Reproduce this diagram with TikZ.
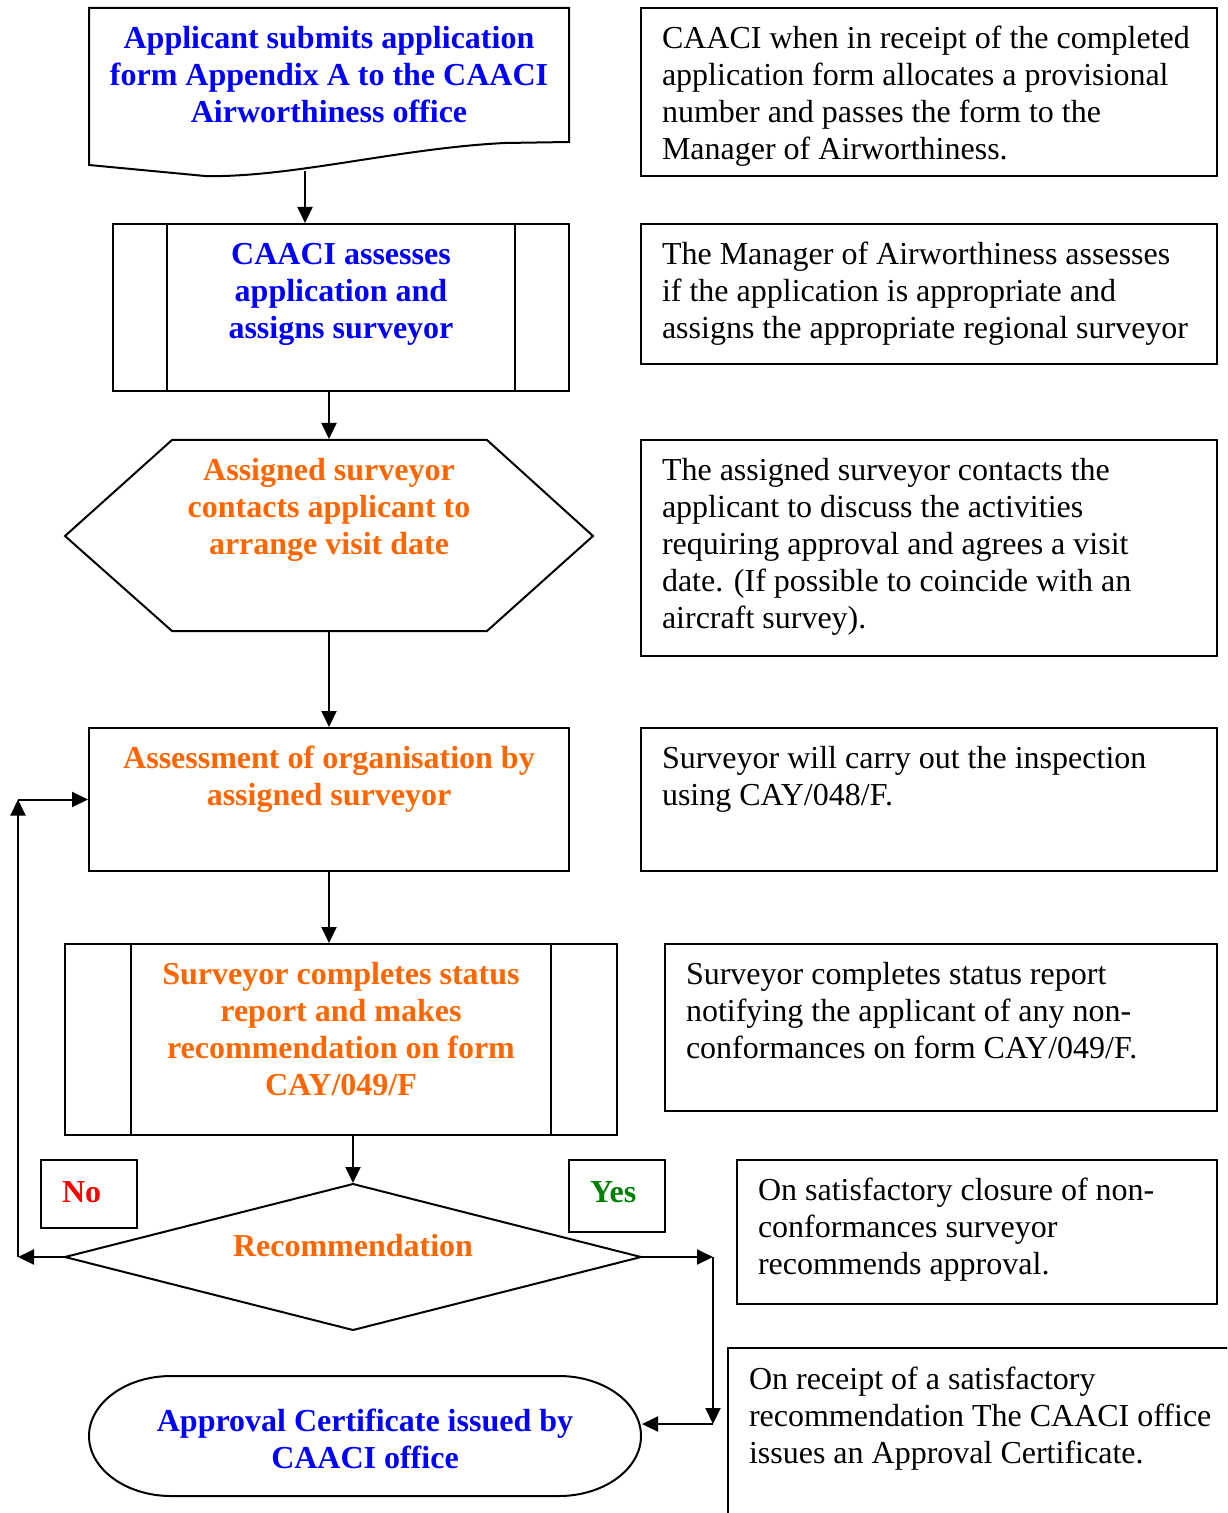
\documentclass[tikz,border=0pt]{standalone}
\usepackage{fontspec}
\setmainfont{Liberation Serif}
\usetikzlibrary{arrows.meta}
\definecolor{cblue}{RGB}{0,0,255}
\definecolor{corange}{RGB}{255,102,0}
\definecolor{cred}{RGB}{255,0,0}
\definecolor{cgreen}{RGB}{0,128,0}
\begin{document}
\begin{tikzpicture}[x=0.5pt,y=-0.5pt,
  line width=1pt,
  arr/.style={-{Triangle[length=8pt,width=7.5pt]}},
  ghost/.style={inner sep=0pt},
  framebox/.style={draw, inner sep=0pt},
  btxt/.style={inner sep=0pt, font=\fontsize{16}{18.5}\selectfont\bfseries, align=center, anchor=north},
  rtxt/.style={inner sep=0pt, font=\fontsize{16}{18.5}\selectfont, align=left, anchor=north west},
  ltxt/.style={inner sep=0pt, font=\fontsize{16}{18.5}\selectfont\bfseries, anchor=base west},
]
\useasboundingbox (0,0) rectangle (1227,1513);

% ---------- left column ----------
% document shape
\draw (89,8) -- (569,8) -- (569,142) -- (505,143) .. controls (400,148) and (290,178) .. (205,176) -- (89,165) -- cycle;
\node[ghost, minimum width=240pt, minimum height=84pt] (doc) at (329,92) {};
\coordinate (docb) at (305,171);
\node[btxt, text=cblue] (doct) at (329,22) {\strut Applicant submits application\\form Appendix A to the CAACI\\Airworthiness office};

% predefined process 1
\node[framebox, minimum width=228pt, minimum height=83.5pt] (s2) at (341,307.5) {};
\draw ([xshift=27.5pt]s2.north west) -- ([xshift=27.5pt]s2.south west);
\draw ([xshift=-27.5pt]s2.north east) -- ([xshift=-27.5pt]s2.south east);
\node[btxt, text=cblue] (s2t) at (341,238) {\strut CAACI assesses\\application and\\assigns surveyor};

% hexagon
\draw (65,536) -- (172,440) -- (487,440) -- (593,536) -- (487,631) -- (172,631) -- cycle;
\node[ghost, minimum width=264pt, minimum height=95.5pt] (s3) at (329,535.5) {};
\node[btxt, text=corange] (s3t) at (329,454) {\strut Assigned surveyor\\contacts applicant to\\arrange visit date};

% process box
\node[framebox, minimum width=240pt, minimum height=71.5pt] (s4) at (329,799.5) {};
\node[btxt, text=corange] (s4t) at (329,742) {\strut Assessment of organisation by\\assigned surveyor};

% predefined process 2
\node[framebox, minimum width=276pt, minimum height=95.5pt] (s5) at (341,1039.5) {};
\draw ([xshift=33.5pt]s5.north west) -- ([xshift=33.5pt]s5.south west);
\draw ([xshift=-33.5pt]s5.north east) -- ([xshift=-33.5pt]s5.south east);
\node[btxt, text=corange] (s5t) at (341,958) {\strut Surveyor completes status\\report and makes\\recommendation on form\\CAY/049/F};

% decision
\draw (65,1257) -- (353,1184) -- (641,1257) -- (353,1330) -- cycle;
\node[ghost, minimum width=288pt, minimum height=73pt] (dia) at (353,1257) {};
\node[btxt, text=corange] (diat) at (353,1230) {\strut Recommendation};

% No / Yes labels
\node[framebox, minimum width=48pt, minimum height=34pt] (nob) at (89,1194) {};
\node[ltxt, text=cred] (not) at (61,1202) {No};
\node[framebox, minimum width=48pt, minimum height=36pt] (yesb) at (617,1196) {};
\node[ltxt, text=cgreen] (yest) at (589,1202) {Yes};

% terminal
\draw (171,1376) -- (559,1376) .. controls (604,1376) and (641,1403) .. (641,1436)
  .. controls (641,1469) and (604,1496) .. (559,1496) -- (171,1496)
  .. controls (126,1496) and (89,1469) .. (89,1436)
  .. controls (89,1403) and (126,1376) .. (171,1376) -- cycle;
\node[ghost, minimum width=276pt, minimum height=60pt] (term) at (365,1436) {};
\node[btxt, text=cblue] (termt) at (365,1405) {\strut Approval Certificate issued by\\CAACI office};

% ---------- right column ----------
\node[framebox, minimum width=288pt, minimum height=84pt] (r1) at (929,92) {};
\node[rtxt] (r1t) at (661,22) {\strut CAACI when in receipt of the completed\\application form allocates a provisional\\number and passes the form to the\\Manager of Airworthiness.};

\node[framebox, minimum width=288pt, minimum height=70pt] (r2) at (929,294) {};
\node[rtxt] (r2t) at (661,238) {\strut The Manager of Airworthiness assesses\\if the application is appropriate and\\assigns the appropriate regional surveyor};

\node[framebox, minimum width=288pt, minimum height=108pt] (r3) at (929,548) {};
\node[rtxt] (r3t) at (661,454) {\strut The assigned surveyor contacts the\\applicant to discuss the activities\\requiring approval and agrees a visit\\date. (If possible to coincide with an\\aircraft survey).};

\node[framebox, minimum width=288pt, minimum height=71.5pt] (r4) at (929,799.5) {};
\node[rtxt] (r4t) at (661,742) {\strut Surveyor will carry out the inspection\\using CAY/048/F.};

\node[framebox, minimum width=276pt, minimum height=83.5pt] (r5) at (941,1027.5) {};
\node[rtxt] (r5t) at (685,958) {\strut Surveyor completes status report\\notifying the applicant of any non-\\conformances on form CAY/049/F.};

\node[framebox, minimum width=240pt, minimum height=72pt] (r6) at (977,1232) {};
\node[rtxt] (r6t) at (757,1174) {\strut On satisfactory closure of non-\\conformances surveyor\\recommends approval.};

\begin{scope}
\clip (0,0) rectangle (1227,1513);
\node[framebox, minimum width=256pt, minimum height=91pt] (r7) at (984,1439) {};
\end{scope}
\node[rtxt] (r7t) at (748,1363) {\strut On receipt of a satisfactory\\recommendation The CAACI office\\issues an Approval Certificate.};

% ---------- connectors ----------
\draw[arr] (docb) -- (docb |- s2.north);
\draw[arr] (s3.north |- s2.south) -- (s3.north);
\draw[arr] (s3.south) -- (s4.north);
\draw[arr] (s4.south) -- (s4.south |- s5.north);
\draw[arr] (dia.north |- s5.south) -- (dia.north);

\coordinate (nl) at (18,1257);
\coordinate (nu) at (18,799.5);
\draw[arr] (dia.west) -- (nl);
\draw[arr] (nl) -- (nu);
\draw[arr] (nu) -- (s4.west);

\coordinate (yr) at (713,1257);
\coordinate (yb) at (713,1424);
\draw[arr] (dia.east) -- (yr);
\draw[arr] (yr) -- (yb);
\draw[arr] (yb) -- (term.east |- yb);
\end{tikzpicture}
\end{document}
